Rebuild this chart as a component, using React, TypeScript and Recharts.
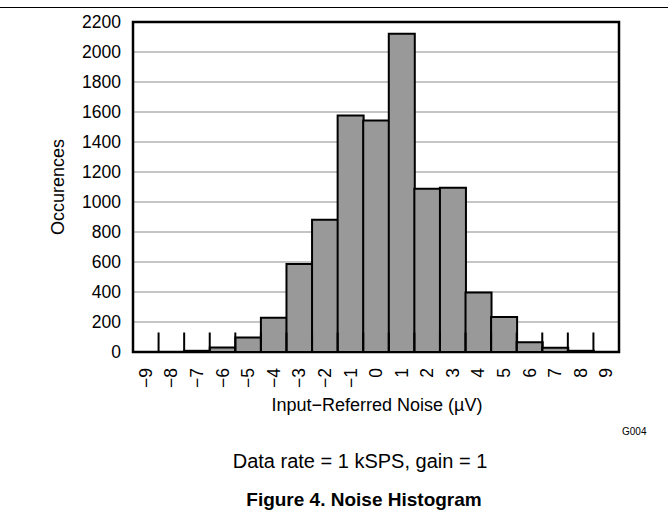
import { BarChart, Bar, XAxis, YAxis, CartesianGrid, ReferenceLine, ReferenceArea } from 'recharts';

// noise bins (µV) and occurrence counts
const bins = [-9, -8, -7, -6, -5, -4, -3, -2, -1, 0, 1, 2, 3, 4, 5, 6, 7, 8, 9];
const counts = [0, 0, 8, 30, 97, 229, 587, 882, 1577, 1544, 2122, 1089, 1095, 397, 233, 65, 28, 8, 0];
const yTicks = [0, 200, 400, 600, 800, 1000, 1200, 1400, 1600, 1800, 2000, 2200];
// short tick marks sit on the bin edges
const binEdges = [-8.5, -7.5, -6.5, -5.5, -4.5, -3.5, -2.5, -1.5, -0.5, 0.5, 1.5, 2.5, 3.5, 4.5, 5.5, 6.5, 7.5, 8.5];
const edgeMarkHeight = 130;

const data = bins.map((bin, i) => ({ bin, count: counts[i] }));

const FONT = '"Liberation Sans", Arial, Helvetica, sans-serif';

const fmt = (v: number) => (v < 0 ? '\u2212' + Math.abs(v) : String(v));

const XTick = (props: any) => {
  const { x, y, payload } = props;
  return (
    <g transform={`translate(${x},${y})`}>
      <text
        transform="rotate(-90)"
        x={-8}
        y={0}
        dy="0.35em"
        textAnchor="end"
        fontSize={17.5}
        fontFamily={FONT}
        fill="#000"
      >
        {fmt(payload.value)}
      </text>
    </g>
  );
};

export default function App() {
  return (
    <div
      style={{
        position: 'absolute',
        left: 0,
        top: 0,
        width: 668,
        height: 514,
        background: '#fff',
        fontFamily: FONT,
        color: '#000',
      }}
    >
      <div style={{ position: 'absolute', left: 0, top: 7, width: 668, borderTop: '1.5px solid #000' }} />

      <BarChart
        width={668}
        height={420}
        data={data}
        margin={{ top: 22, right: 49, left: 0, bottom: 0 }}
        barCategoryGap={0}
        style={{ fontFamily: FONT }}
      >
        <CartesianGrid vertical={false} stroke="#8c8c8c" strokeWidth={1.2} />
        <XAxis
          dataKey="bin"
          type="category"
          interval={0}
          axisLine={false}
          tickLine={false}
          height={68}
          tick={<XTick />}
        />
        <XAxis xAxisId="num" dataKey="bin" type="number" domain={[-9.5, 9.5]} hide allowDataOverflow />
        <YAxis
          domain={[0, 2200]}
          ticks={yTicks}
          interval={0}
          axisLine={false}
          tickLine={false}
          width={133}
          tickMargin={6}
          tick={{ fill: '#000', fontSize: 17.5, fontFamily: FONT }}
        />
        <Bar dataKey="count" fill="#999999" stroke="#000" strokeWidth={2} isAnimationActive={false} />
        {binEdges.map((b) => (
          <ReferenceLine
            key={b}
            xAxisId="num"
            segment={[
              { x: b, y: 0 },
              { x: b, y: edgeMarkHeight },
            ]}
            stroke="#000"
            strokeWidth={2}
          />
        ))}
        <ReferenceArea
          xAxisId="num"
          x1={-9.5}
          x2={9.5}
          y1={0}
          y2={2200}
          fill="none"
          fillOpacity={0}
          stroke="#000"
          strokeWidth={2.5}
          ifOverflow="visible"
        />
      </BarChart>

      <div
        style={{
          position: 'absolute',
          left: 58,
          top: 187,
          transform: 'translate(-50%, -50%) rotate(-90deg)',
          fontSize: 18,
          whiteSpace: 'nowrap',
        }}
      >
        Occurences
      </div>

      <div
        style={{
          position: 'absolute',
          left: 377,
          top: 405,
          transform: 'translate(-50%, -50%)',
          fontSize: 18,
          whiteSpace: 'nowrap',
        }}
      >
        Input{'\u2212'}Referred Noise (µV)
      </div>

      <div style={{ position: 'absolute', left: 622, top: 426, fontSize: 10, whiteSpace: 'nowrap' }}>G004</div>

      <div
        style={{
          position: 'absolute',
          left: 360,
          top: 461,
          transform: 'translate(-50%, -50%)',
          fontSize: 20,
          whiteSpace: 'nowrap',
        }}
      >
        Data rate = 1 kSPS, gain = 1
      </div>

      <div
        style={{
          position: 'absolute',
          left: 364,
          top: 500,
          transform: 'translate(-50%, -50%)',
          fontSize: 19,
          fontWeight: 'bold',
          whiteSpace: 'nowrap',
        }}
      >
        Figure 4. Noise Histogram
      </div>
    </div>
  );
}
